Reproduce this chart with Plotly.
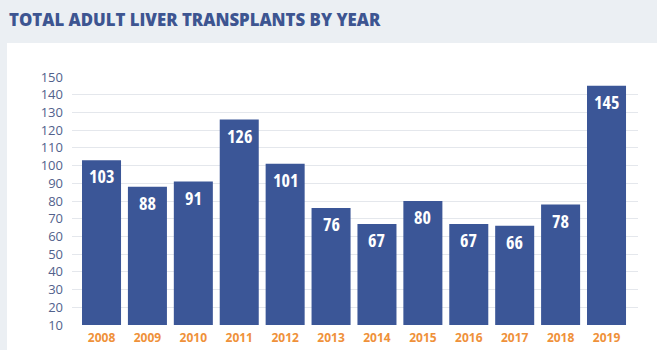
import plotly.graph_objects as go

years = ["2008", "2009", "2010", "2011", "2012", "2013", "2014", "2015", "2016", "2017", "2018", "2019"]
transplants = [103, 88, 91, 126, 101, 76, 67, 80, 67, 66, 78, 145]
y_ticks = list(range(10, 151, 10))

W, H = 657, 350
L, R, T, B = 72, 19, 77, 25
pw, ph = W - L - R, H - T - B

BAR = "#3b5697"
ORANGE = "#ef913a"
TITLE = "#3d5591"
AXIS_TXT = "#52618c"
BG = "#ebeff3"

xs = list(range(len(years)))

fig = go.Figure()
fig.add_trace(go.Bar(x=xs, y=transplants, marker=dict(color=BAR, line=dict(width=0)),
                     hoverinfo="skip"))

for xi, v in zip(xs, transplants):
    fig.add_annotation(x=xi, y=v, text=f'<span style="font-stretch:75%">{v}</span>',
                       showarrow=False, yanchor="top", yshift=-2,
                       font=dict(family="Open Sans, sans-serif", size=18, color="white",
                                 weight=700))

# white panel
fig.add_shape(type="rect", xref="paper", yref="paper",
              x0=(7 - L) / pw, x1=(W - L) / pw + 0.01, y0=-B / ph - 0.02, y1=(H - B - 43) / ph,
              fillcolor="white", line=dict(width=0), layer="below")

fig.add_annotation(xref="paper", yref="paper", x=(7 - L) / pw, y=(H - B - 19) / ph,
                   xanchor="left", yanchor="middle", showarrow=False,
                   text="TOTAL ADULT LIVER TRANSPLANTS BY YEAR",
                   font=dict(family="Open Sans, sans-serif", size=16.8, color=TITLE, weight=800))

fig.update_layout(
    width=W, height=H,
    margin=dict(l=L, r=R, t=T, b=B, autoexpand=False),
    paper_bgcolor=BG, plot_bgcolor="rgba(0,0,0,0)",
    showlegend=False, bargap=0.15,
    xaxis=dict(range=[-0.643, 11.686], tickmode="array", tickvals=xs, ticktext=years,
               showgrid=False, zeroline=False, showline=False, ticks="", automargin=False,
               ticklabelstandoff=4,
               tickfont=dict(family="Open Sans, sans-serif", size=12, color=ORANGE, weight="bold")),
    yaxis=dict(range=[10, 150], tickmode="array", tickvals=y_ticks, automargin=False,
               showgrid=True, gridcolor="#e4e7ec", gridwidth=1, zeroline=False, showline=False,
               ticks="", ticklabelstandoff=8,
               tickfont=dict(family="Open Sans, sans-serif", size=13, color=AXIS_TXT)),
)

fig.write_html("out.html")
